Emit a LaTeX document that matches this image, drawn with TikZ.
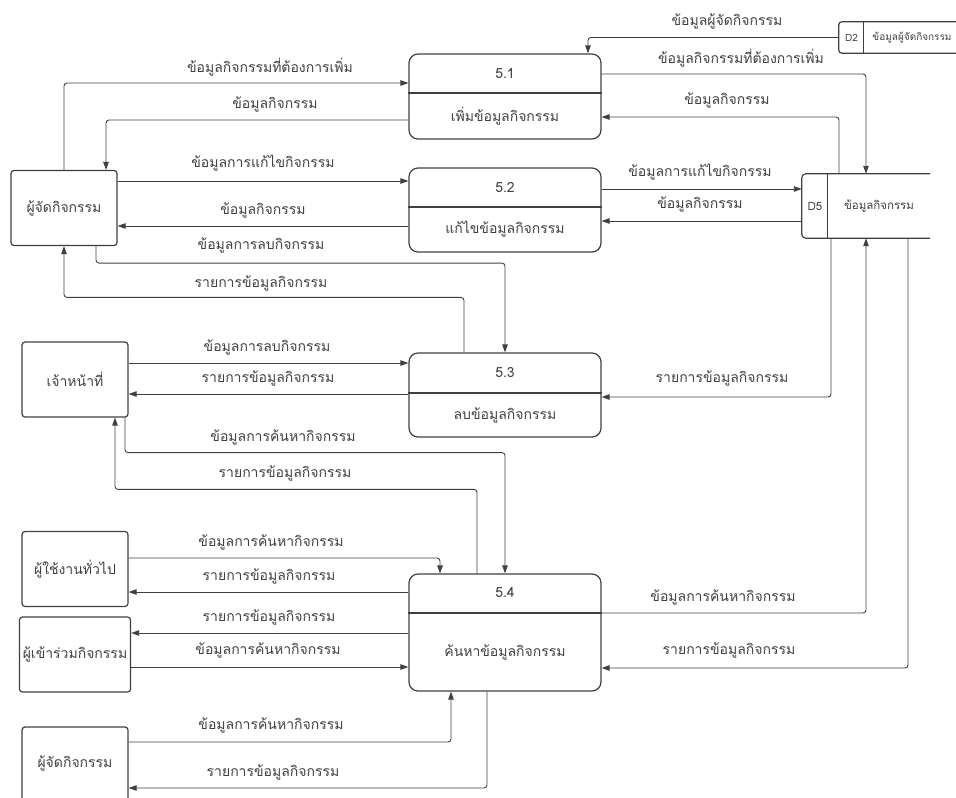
\documentclass[tikz,border=0pt]{standalone}
\usepackage{fontspec}
\setmainfont{Loma}[Script=Thai]
\usetikzlibrary{arrows.meta}
\tikzset{
  ent/.style={draw=black!75, line width=1.2pt, rounded corners=3pt, minimum width=106, minimum height=75, text=black!75, font=\fontsize{14}{16}\selectfont},
  proc/.style={draw=black!75, line width=1.2pt, rounded corners=9pt, minimum width=192},
  txt/.style={text=black!75, inner sep=1pt, font=\fontsize{14}{16}\selectfont},
  lbl/.style={text=black!75, inner sep=1pt, font=\fontsize{14}{16}\selectfont},
  small/.style={text=black!75, inner sep=1pt, font=\fontsize{11.5}{13}\selectfont},
  tiny/.style={text=black!75, inner sep=0pt, font=\fontsize{10}{12}\selectfont},
  flow/.style={draw=black!75, line width=0.9pt, rounded corners=3pt, -{Triangle[length=8pt,width=5.5pt]}},
}

\begin{document}
\begin{tikzpicture}[x=1pt, y=-1pt]
			%%%%% START %%%%%
			\useasboundingbox (0,0) rectangle (956,798);
			
			% external entities
			\node[ent] (org) at (64,208) {ผู้จัดกิจกรรม};
			\node[ent] (staff) at (75,379.5) {เจ้าหน้าที่};
			\node[ent] (user) at (75,569) {ผู้ใช้งานทั่วไป};
			\node[ent] (part) at (75,654.5) {ผู้เข้าร่วมกิจกรรม};
			\node[ent] (org2) at (75,764.5) {};
			\node[txt] (org2t) at (75,763) {ผู้จัดกิจกรรม};
			
			% processes
			\node[proc, minimum height=85] (p1) at (505,96.5) {};
			\draw[line width=1.2pt, black!75] (p1.west |- 0,93) -- (p1.east |- 0,93);
			\node[txt] (p1n) at (505,74) {5.1};
			\node[txt] (p1t) at (505,116) {เพิ่มข้อมูลกิจกรรม};
			
			\node[proc, minimum height=84] (p2) at (505,210) {};
			\draw[line width=1.2pt, black!75] (p2.west |- 0,207) -- (p2.east |- 0,207);
			\node[txt] (p2n) at (505,188) {5.2};
			\node[txt] (p2t) at (505,229) {แก้ไขข้อมูลกิจกรรม};
			
			\node[proc, minimum height=84] (p3) at (505,395) {};
			\draw[line width=1.2pt, black!75] (p3.west |- 0,393) -- (p3.east |- 0,393);
			\node[txt] (p3n) at (505,373) {5.3};
			\node[txt] (p3t) at (505,415) {ลบข้อมูลกิจกรรม};
			
			\node[proc, minimum height=117] (p4) at (505,632.5) {};
			\draw[line width=1.2pt, black!75] (p4.west |- 0,613) -- (p4.east |- 0,613);
			\node[txt] (p4n) at (505,593) {5.4};
			\node[txt] (p4t) at (505,652) {ค้นหาข้อมูลกิจกรรม};
			
			% data stores
			\node[minimum width=121, minimum height=31, inner sep=0pt] (d2) at (899.5,37.5) {};
			\draw[line width=1.2pt, black!75, rounded corners=3pt] (d2.north west) rectangle (d2.south east);
			\draw[line width=1.2pt, black!75] ([xshift=25]d2.north west) -- ([xshift=25]d2.south west);
			\node[tiny] (d2n) at (851.5,38) {D2};
			\node[tiny] (d2t) at (912,38) {ข้อมูลผู้จัดกิจกรรม};
			
			\node[minimum width=128, minimum height=64, inner sep=0pt] (d5) at (866,206) {};
			\draw[line width=1.2pt, black!75, rounded corners=4pt] (d5.north east) -- (d5.north west) -- (d5.south west) -- (d5.south east);
			\draw[line width=1.2pt, black!75] ([xshift=26]d5.north west) -- ([xshift=26]d5.south west);
			\node[small] (d5n) at (815,206) {D5};
			\node[small] (d5t) at (879,206) {ข้อมูลกิจกรรม};
			
			% flows, organiser
			\draw[flow] (org.north) |- (p1.west |- 0,83);
			\node[lbl] (f1) at (270,67) {ข้อมูลกิจกรรมที่ต้องการเพิ่ม};
			\draw[flow] (p1.west |- 0,120) -| ([xshift=42]org.north);
			\node[lbl] (f2) at (275,104) {ข้อมูลกิจกรรม};
			\draw[flow] (org.east |- 0,181) -- (p2.west |- 0,181);
			\node[lbl] (f3) at (263,163) {ข้อมูลการแก้ไขกิจกรรม};
			\draw[flow] (p2.west |- 0,226) -- (org.east |- 0,226);
			\node[lbl] (f4) at (263,210) {ข้อมูลกิจกรรม};
			\draw[flow] ([xshift=32]org.south) -- ++(0,17) -| (p3.north);
			\node[lbl] (f5) at (261,245) {ข้อมูลการลบกิจกรรม};
			\draw[flow] ([xshift=-41]p3.north) -- ++(0,-55) -| (org.south);
			\node[lbl] (f6) at (261,283) {รายการข้อมูลกิจกรรม};
			
			% flows, staff
			\draw[flow] (staff.east |- 0,363) -- (p3.west |- 0,363);
			\node[lbl] (f7) at (267,347) {ข้อมูลการลบกิจกรรม};
			\draw[flow] (p3.west |- 0,394) -- (staff.east |- 0,394);
			\node[lbl] (f8) at (268,378) {รายการข้อมูลกิจกรรม};
			\draw[flow] ([xshift=50]staff.south) -- ++(0,35) -| (p4.north);
			\node[lbl] (f9) at (283,437) {ข้อมูลการค้นหากิจกรรม};
			\draw[flow] ([xshift=-28]p4.north) -- ++(0,-84) -| ([xshift=40]staff.south);
			\node[lbl] (f10) at (285,473) {รายการข้อมูลกิจกรรม};
			
			% flows, users
			\draw[flow] (user.east |- 0,558) -| ([xshift=-65]p4.north);
			\node[lbl] (f11) at (271,542) {ข้อมูลการค้นหากิจกรรม};
			\draw[flow] (p4.west |- 0,592) -- (user.east |- 0,592);
			\node[lbl] (f12) at (269,576) {รายการข้อมูลกิจกรรม};
			\draw[flow] (p4.west |- 0,633) -- (part.east |- 0,633);
			\node[lbl] (f13) at (269,617) {รายการข้อมูลกิจกรรม};
			\draw[flow] (part.east |- 0,667) -- (p4.west |- 0,667);
			\node[lbl] (f14) at (268,650) {ข้อมูลการค้นหากิจกรรม};
			\draw[flow] (org2.east |- 0,742) -| ([xshift=-54]p4.south);
			\node[lbl] (f15) at (271,725) {ข้อมูลการค้นหากิจกรรม};
			\draw[flow] ([xshift=-18]p4.south) |- (org2.east |- 0,788);
			\node[lbl] (f16) at (273,772) {รายการข้อมูลกิจกรรม};
			
			% flows, stores
			\draw[flow] (d2.west) -| ([xshift=83]p1.north);
			\node[lbl] (f17) at (727,21) {ข้อมูลผู้จัดกิจกรรม};
			\draw[flow] (p1.east |- 0,74) -| (d5.north);
			\node[lbl] (f18) at (741,58) {ข้อมูลกิจกรรมที่ต้องการเพิ่ม};
			\draw[flow] ([xshift=-27]d5.north) |- (p1.east |- 0,117);
			\node[lbl] (f19) at (727,100) {ข้อมูลกิจกรรม};
			\draw[flow] (p2.east |- 0,189) -- (d5.west |- 0,189);
			\node[lbl] (f20) at (700,172) {ข้อมูลการแก้ไขกิจกรรม};
			\draw[flow] (d5.west |- 0,221) -- (p2.east |- 0,221);
			\node[lbl] (f21) at (700,204) {ข้อมูลกิจกรรม};
			\draw[flow] ([xshift=-35]d5.south) |- (p3.east |- 0,397);
			\node[lbl] (f22) at (722,378) {รายการข้อมูลกิจกรรม};
			\draw[flow] (p4.east |- 0,613) -| (d5.south);
			\node[lbl] (f23) at (723,597) {ข้อมูลการค้นหากิจกรรม};
			\draw[flow] ([xshift=42]d5.south) |- (p4.east |- 0,668);
			\node[lbl] (f24) at (729,650) {รายการข้อมูลกิจกรรม};
			
			%%%%% END %%%%%
\end{tikzpicture}
\end{document}
